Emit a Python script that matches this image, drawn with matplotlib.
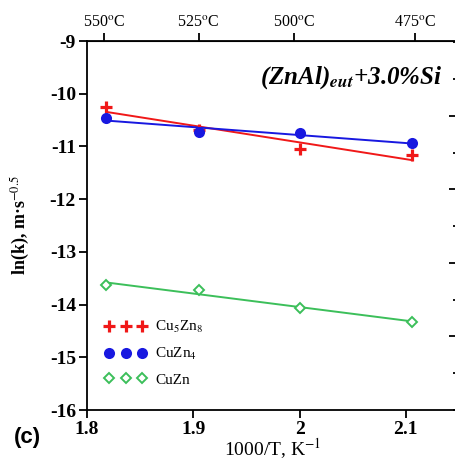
import numpy as np
import matplotlib
matplotlib.use("Agg")
import matplotlib.pyplot as plt
from matplotlib.ticker import MultipleLocator, NullFormatter

## Data ---------------------------------------------

inv_T = [1.818, 1.905, 2.0, 2.106]
cu5zn8 = [-10.25, -10.69, -11.05, -11.16]
cuzn4 = [-10.46, -10.73, -10.75, -10.94]
cuzn = [-13.63, -13.72, -14.07, -14.33]

top_ticks = [1.816, 1.905, 1.995, 2.109]
top_labels = ["550$^{\\rm o}$C", "525$^{\\rm o}$C", "500$^{\\rm o}$C", "475$^{\\rm o}$C"]

## Style --------------------------------------------

plt.rcParams["font.family"] = ["Liberation Serif", "DejaVu Serif"]
plt.rcParams["mathtext.fontset"] = "stix"
plt.rcParams["axes.unicode_minus"] = False

fig = plt.figure(figsize=(4.56, 4.61), dpi=100)
ax = fig.add_axes([87 / 456, 51 / 461, 372 / 456, 369 / 461])

series = [
    (cu5zn8, "#f01818", "+", "Cu$_5$Zn$_8$", dict(markersize=8.5, markeredgewidth=2.3)),
    (cuzn4, "#1818e0", "o", "CuZn$_4$", dict(markersize=8, markeredgewidth=0)),
    (cuzn, "#3cbf5a", "D", "CuZn", dict(markersize=5, markerfacecolor="white", markeredgewidth=1.4)),
]

for y, color, marker, label, mk in series:
    k, b = np.polyfit(inv_T, y, 1)
    xs = np.array([inv_T[0], inv_T[-1]])
    ax.plot(xs, k * xs + b, color=color, lw=1.4, zorder=2)
    ax.plot(inv_T, y, linestyle="none", marker=marker, color=color, label=label, zorder=3, **mk)

ax.set_xlim(1.8, 2.15)
ax.set_ylim(-16, -9)
ax.set_xticks([1.8, 1.9, 2.0, 2.1])
ax.set_xticklabels(["1.8", "1.9", "2", "2.1"])
ax.set_yticks(range(-16, -8))
for lab in ax.get_xticklabels() + ax.get_yticklabels():
    lab.set_fontweight("bold")
    lab.set_fontsize(14)
ax.tick_params(axis="both", direction="out", length=6, width=1.3, pad=2)
ax.tick_params(axis="y", right=False)

for sp in ax.spines.values():
    sp.set_linewidth(1.3)

ax.set_xlabel("1000/T, K$^{-1}$", fontsize=14, labelpad=-1)
ax.set_ylabel("ln(k), m·s$^{-0.5}$", fontsize=13, fontweight="bold", labelpad=13)

# top axis with temperatures
top = ax.secondary_xaxis("top")
top.set_xticks(top_ticks)
top.set_xticklabels(top_labels, fontsize=11.5)
top.tick_params(direction="out", length=6, width=1.3, pad=2)

# right axis ticks (no labels)
right = ax.twinx()
right.set_ylim(0, 5.02)
right.yaxis.set_major_locator(MultipleLocator(1))
right.yaxis.set_minor_locator(MultipleLocator(0.5))
right.yaxis.set_major_formatter(NullFormatter())
right.tick_params(axis="y", which="major", direction="in", length=7, width=1.3)
right.tick_params(axis="y", which="minor", direction="in", length=4, width=1.3)
right.set_yticks([1, 2, 3, 4])
for sp in right.spines.values():
    sp.set_visible(False)

ax.text(0.955, 0.9, "(ZnAl)$_{\\mathbfit{eut}}$+3.0%Si", transform=ax.transAxes,
        ha="right", va="center", fontsize=18, fontweight="bold", fontstyle="italic")

ax.legend(loc="upper left", bbox_to_anchor=(0.019, 0.275), numpoints=3, frameon=False,
          fontsize=11, handlelength=2.76, handletextpad=0.55, labelspacing=0.71,
          borderaxespad=0.3)

fig.text(14 / 456, 1 - 437 / 461, "(c)", fontsize=16, fontweight="bold",
         family="Liberation Sans", va="center")

fig.savefig("out.png", dpi=100)
